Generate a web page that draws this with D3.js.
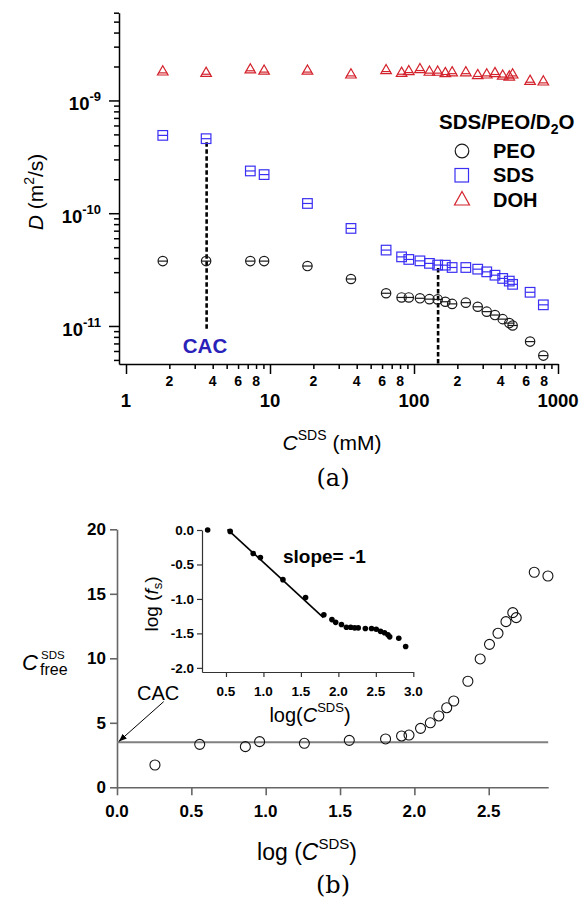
<!DOCTYPE html>
<html><head><meta charset="utf-8">
<script src="https://cdn.jsdelivr.net/npm/d3@7"></script>
<style>
body{margin:0;background:#fff}
svg{display:block;font-family:"Liberation Sans",Arial,sans-serif}
</style></head><body>
<svg id="fig" width="582" height="900"></svg>
<script>
// SDS concentration (mM) of each sample
const concentration = [1.8, 3.6, 7.3, 9.1, 18.2, 36.5, 64, 82, 92, 110, 128, 146, 165, 184, 229, 277, 320, 365, 413, 459, 484, 640, 791];
// self-diffusion coefficients (m^2/s)
const dPEO = [3.76e-11, 3.76e-11, 3.76e-11, 3.76e-11, 3.4e-11, 2.61e-11, 1.95e-11, 1.79e-11, 1.79e-11, 1.76e-11, 1.73e-11, 1.72e-11, 1.64e-11, 1.57e-11, 1.61e-11, 1.48e-11, 1.34e-11, 1.25e-11, 1.15e-11, 1.06e-11, 1.01e-11, 7.27e-12, 5.46e-12];
const dSDS = [4.9e-10, 4.58e-10, 2.37e-10, 2.2e-10, 1.22e-10, 7.33e-11, 4.71e-11, 4.1e-11, 3.89e-11, 3.78e-11, 3.59e-11, 3.47e-11, 3.46e-11, 3.3e-11, 3.3e-11, 3.19e-11, 3.02e-11, 2.82e-11, 2.64e-11, 2.5e-11, 2.34e-11, 1.99e-11, 1.54e-11];
const dDOH = [1.84e-9, 1.79e-9, 1.92e-9, 1.87e-9, 1.87e-9, 1.73e-9, 1.89e-9, 1.79e-9, 1.85e-9, 1.93e-9, 1.83e-9, 1.83e-9, 1.78e-9, 1.81e-9, 1.81e-9, 1.71e-9, 1.73e-9, 1.78e-9, 1.69e-9, 1.66e-9, 1.73e-9, 1.52e-9, 1.50e-9];
// free surfactant concentration (mM) and log of free fraction
const cFree = [1.73, 3.33, 3.15, 3.54, 3.41, 3.64, 3.75, 3.98, 4.05, 4.57, 5.0, 5.53, 6.17, 6.69, 8.22, 9.95, 11.08, 11.94, 12.84, 13.54, 13.15, 16.67, 16.38];
const logFs = [0.0, -0.02, -0.34, -0.40, -0.72, -0.98, -1.23, -1.30, -1.34, -1.37, -1.41, -1.41, -1.42, -1.42, -1.43, -1.43, -1.44, -1.47, -1.49, -1.52, -1.55, -1.57, -1.69];
const cacLevel = 3.5;
// dashed guides: [concentration, upper D, lower D]
const guides = [[3.63, 4.25e-10, 9.2e-12], [147, 3.26e-11, 4.6e-12]];
// slope -1 fit segment in the inset
const fitX = [0.52, 1.80];
const fitY = [0.01, -1.27];
const xMajorLabels = [1, 10, 100, 1000];
const xMinorLabels = [2, 4, 6, 8, 20, 40, 60, 80, 200, 400, 600, 800];
const yMajorExp = [-9, -10, -11];
const bYTicks = [0, 5, 10, 15, 20];
const bXTicks = [0, 0.5, 1.0, 1.5, 2.0, 2.5];
const iYTicks = [0, -0.5, -1.0, -1.5, -2.0];
const iXTicks = [0.5, 1.0, 1.5, 2.0, 2.5, 3.0];

const RED = "#d3222c", BLUE = "#3a2ff2", INK = "#1a1a1a";
const svg = d3.select("#fig");
svg.append("defs").append("marker").attr("id", "ah")
  .attr("viewBox", "0 0 10 10").attr("refX", 10).attr("refY", 5)
  .attr("markerWidth", 8).attr("markerHeight", 8).attr("orient", "auto")
  .append("path").attr("d", "M0,1L10,5L0,9z").attr("fill", "#000");

/* ---------- panel (a): diffusion coefficients ---------- */
const xA = d3.scaleLog().domain([0.894, 1000]).range([119, 558]);
const yA = d3.scaleLog().domain([4.6e-12, 6e-9]).range([364, 12.7]);
const gA = svg.append("g");

const xAll = [];
[1, 10, 100].forEach(d => d3.range(1, 10).forEach(k => xAll.push(k * d)));
xAll.push(1000);
const xMinor = xAll.filter(v => !xMajorLabels.includes(v));
const yMinor = [];
[1e-12, 1e-11, 1e-10, 1e-9].forEach(d => d3.range(2, 10).forEach(k => {
  const v = k * d; if (v >= 4.6e-12 && v <= 6.01e-9) yMinor.push(v);
}));
const yMajor = yMajorExp.map(e => Math.pow(10, e));

function styleAxis(g, col, w) {
  g.selectAll("path,line").attr("stroke", col).attr("stroke-width", w);
  g.selectAll("text").remove();
}
gA.append("g").attr("transform", "translate(0,364)")
  .call(d3.axisBottom(xA).tickValues(xMinor).tickSize(5).tickSizeOuter(0).tickFormat(""))
  .call(g => styleAxis(g, "#000", 1.5));
gA.append("g").attr("transform", "translate(0,364)")
  .call(d3.axisBottom(xA).tickValues(xMajorLabels).tickSize(10).tickSizeOuter(0).tickFormat(""))
  .call(g => { styleAxis(g, "#000", 1.5); g.select(".domain").remove(); });
gA.append("g").attr("transform", "translate(119,0)")
  .call(d3.axisLeft(yA).tickValues(yMinor).tickSize(5).tickSizeOuter(0).tickFormat(""))
  .call(g => styleAxis(g, "#000", 1.5));
gA.append("g").attr("transform", "translate(119,0)")
  .call(d3.axisLeft(yA).tickValues(yMajor).tickSize(10).tickSizeOuter(0).tickFormat(""))
  .call(g => { styleAxis(g, "#000", 1.5); g.select(".domain").remove(); });

gA.selectAll(".xminl").data(xMinorLabels).join("text")
  .attr("x", d => xA(d)).attr("y", 386).attr("text-anchor", "middle")
  .attr("font-size", 14).attr("font-weight", "bold").text(d => String(d)[0]);
gA.selectAll(".xmajl").data(xMajorLabels).join("text")
  .attr("x", d => xA(d)).attr("y", 407).attr("text-anchor", "middle")
  .attr("font-size", 18.5).attr("font-weight", "bold").text(d => d);
const yl = gA.selectAll(".ymajl").data(yMajorExp).join("text")
  .attr("x", 101).attr("y", d => yA(Math.pow(10, d)) + 10).attr("text-anchor", "end")
  .attr("font-weight", "bold");
yl.append("tspan").attr("font-size", 18.5).text("10");
yl.append("tspan").attr("font-size", 13).attr("dy", -9).text(d => d);

// dashed CAC / CMC guides
gA.selectAll(".guide").data(guides).join("line")
  .attr("x1", d => xA(d[0])).attr("x2", d => xA(d[0]))
  .attr("y1", d => yA(d[1])).attr("y2", d => yA(d[2]))
  .attr("stroke", "#000").attr("stroke-width", 2.6).attr("stroke-dasharray", "4.5,2.5");

// markers with a centre bar
function circleMark(g, r) {
  g.append("circle").attr("r", r).attr("fill", "none");
}
const seriesA = [
  { vals: dPEO, col: INK, kind: "circle" },
  { vals: dSDS, col: BLUE, kind: "square" },
  { vals: dDOH, col: RED, kind: "triangle" }
];
seriesA.forEach(s => {
  const g = gA.append("g").attr("stroke", s.col).attr("stroke-width", 1.2).attr("fill", "none");
  const m = g.selectAll("g").data(concentration.map((c, i) => [c, s.vals[i]])).join("g")
    .attr("transform", d => `translate(${xA(d[0])},${yA(d[1])})`);
  if (s.kind === "circle") {
    m.append("circle").attr("r", 4.7);
    m.append("line").attr("x1", -4.7).attr("x2", 4.7);
  } else if (s.kind === "square") {
    m.append("rect").attr("x", -4.8).attr("y", -4.8).attr("width", 9.6).attr("height", 9.6);
    m.append("line").attr("x1", -4.8).attr("x2", 4.8);
  } else {
    m.append("path").attr("d", "M0,-4.8L5.3,4.4L-5.3,4.4Z");
    m.append("line").attr("x1", -4.4).attr("x2", 4.4).attr("y1", 2.3).attr("y2", 2.3);
  }
});

// legend
const lg = gA.append("g");
const lt = lg.append("text").attr("x", 439).attr("y", 129).attr("font-size", 20.5).attr("font-weight", "bold");
lt.append("tspan").text("SDS/PEO/D");
lt.append("tspan").attr("font-size", 14).attr("dy", 5).text("2");
lt.append("tspan").attr("dy", -5).text("O");
lg.append("circle").attr("cx", 462).attr("cy", 151).attr("r", 6.8)
  .attr("fill", "none").attr("stroke", INK).attr("stroke-width", 1.2);
lg.append("rect").attr("x", 455).attr("y", 168.5).attr("width", 13.5).attr("height", 13.5)
  .attr("fill", "none").attr("stroke", BLUE).attr("stroke-width", 1.2);
lg.append("path").attr("d", "M462,191.5L469.5,205L454.5,205Z")
  .attr("fill", "none").attr("stroke", RED).attr("stroke-width", 1.2);
[["PEO", 157.5], ["SDS", 182], ["DOH", 206.5]].forEach(([t, y]) =>
  lg.append("text").attr("x", 493).attr("y", y).attr("font-size", 20)
    .attr("font-weight", "bold").text(t));

gA.append("text").attr("x", 205).attr("y", 353).attr("text-anchor", "middle")
  .attr("font-size", 20.5).attr("font-weight", "bold").attr("fill", "#2a22b8").text("CAC");

const ylab = gA.append("text").attr("transform", "translate(43,192) rotate(-90)")
  .attr("text-anchor", "middle").attr("font-size", 21);
ylab.append("tspan").attr("font-style", "italic").text("D");
ylab.append("tspan").text(" (m");
ylab.append("tspan").attr("font-size", 14).attr("dy", -9).text("2");
ylab.append("tspan").attr("dy", 9).text("/s)");

const xlab = gA.append("text").attr("x", 332).attr("y", 450)
  .attr("text-anchor", "middle").attr("font-size", 21);
xlab.append("tspan").attr("font-style", "italic").text("C");
xlab.append("tspan").attr("font-size", 14).attr("dy", -10).text("SDS");
xlab.append("tspan").attr("dy", 10).text(" (mM)");

svg.append("text").attr("x", 333).attr("y", 486).attr("text-anchor", "middle")
  .attr("font-family", "'DejaVu Serif',serif").attr("font-size", 24).text("(a)");

/* ---------- panel (b): free surfactant ---------- */
const xB = d3.scaleLinear().domain([0, 2.9]).range([117, 548.2]);
const yB = d3.scaleLinear().domain([0, 20]).range([787.3, 529.3]);
const gB = svg.append("g");
const GREY = "#666";

gB.append("g").attr("transform", "translate(0,787.3)")
  .call(d3.axisBottom(xB).tickValues(bXTicks).tickSize(8).tickSizeOuter(0).tickFormat(""))
  .call(g => styleAxis(g, GREY, 1.6));
gB.append("g").attr("transform", "translate(117,0)")
  .call(d3.axisLeft(yB).tickValues(bYTicks).tickSize(7).tickSizeOuter(0).tickFormat(""))
  .call(g => styleAxis(g, GREY, 1.6));
gB.selectAll(".bxl").data(bXTicks).join("text")
  .attr("x", d => xB(d)).attr("y", 817).attr("text-anchor", "middle")
  .attr("font-size", 17).attr("font-weight", "bold").text(d => d3.format(".1f")(d));
gB.selectAll(".byl").data(bYTicks).join("text")
  .attr("x", 106).attr("y", d => yB(d) + 6).attr("text-anchor", "end")
  .attr("font-size", 17).attr("font-weight", "bold").text(d => d);

gB.append("line").attr("x1", xB(0)).attr("x2", xB(2.9))
  .attr("y1", yB(cacLevel)).attr("y2", yB(cacLevel))
  .attr("stroke", "#808080").attr("stroke-width", 2);

const logC = concentration.map(c => Math.log10(c));
gB.selectAll(".free").data(logC.map((v, i) => [v, cFree[i]])).join("circle")
  .attr("cx", d => xB(d[0])).attr("cy", d => yB(d[1])).attr("r", 5)
  .attr("fill", "none").attr("stroke", "#111").attr("stroke-width", 1.1);

gB.append("text").attr("x", 137).attr("y", 700).attr("font-size", 20).text("CAC");
gB.append("line").attr("x1", xB(0.314)).attr("y1", yB(6.64))
  .attr("x2", xB(0.012)).attr("y2", yB(cacLevel + 0.05))
  .attr("stroke", "#000").attr("stroke-width", 1).attr("marker-end", "url(#ah)");

const cf = gB.append("text").attr("x", 22).attr("y", 670).attr("font-size", 22);
cf.append("tspan").attr("font-style", "italic").text("C");
gB.append("text").attr("x", 41).attr("y", 659).attr("font-size", 11.5).text("SDS");
gB.append("text").attr("x", 40).attr("y", 675).attr("font-size", 16).text("free");

const bxl = gB.append("text").attr("x", 307).attr("y", 860)
  .attr("text-anchor", "middle").attr("font-size", 23);
bxl.append("tspan").text("log (");
bxl.append("tspan").attr("font-style", "italic").text("C");
bxl.append("tspan").attr("font-size", 15).attr("dy", -11).text("SDS");
bxl.append("tspan").attr("dy", 11).text(")");

svg.append("text").attr("x", 333).attr("y", 893).attr("text-anchor", "middle")
  .attr("font-family", "'DejaVu Serif',serif").attr("font-size", 24).text("(b)");

/* ---------- inset: log free fraction ---------- */
const xI = d3.scaleLinear().domain([0.18, 3.0]).range([202, 413.3]);
const yI = d3.scaleLinear().domain([-2.06, 0]).range([672, 530]);
const gI = svg.append("g");
gI.append("g").attr("transform", "translate(0,672)")
  .call(d3.axisBottom(xI).tickValues(iXTicks).tickSize(5).tickSizeOuter(0).tickFormat(""))
  .call(g => styleAxis(g, "#333", 1.2));
gI.append("g").attr("transform", "translate(202,0)")
  .call(d3.axisLeft(yI).tickValues(iYTicks).tickSize(5).tickSizeOuter(0).tickFormat(""))
  .call(g => styleAxis(g, "#333", 1.2));
gI.selectAll(".ixl").data(iXTicks).join("text")
  .attr("x", d => xI(d)).attr("y", 696).attr("text-anchor", "middle")
  .attr("font-size", 13.5).attr("font-weight", "bold").text(d => d3.format(".1f")(d));
gI.selectAll(".iyl").data(iYTicks).join("text")
  .attr("x", 194).attr("y", d => yI(d) + 4.8).attr("text-anchor", "end")
  .attr("font-size", 13.5).attr("font-weight", "bold").text(d => d3.format(".1f")(d).replace("−", "-"));

gI.append("line").attr("x1", xI(fitX[0])).attr("y1", yI(fitY[0]))
  .attr("x2", xI(fitX[1])).attr("y2", yI(fitY[1]))
  .attr("stroke", "#000").attr("stroke-width", 1.6);
gI.selectAll(".fs").data(logC.map((v, i) => [v, logFs[i]])).join("circle")
  .attr("cx", d => xI(d[0])).attr("cy", d => yI(d[1])).attr("r", 2.8).attr("fill", "#000");

gI.append("text").attr("x", 283).attr("y", 563).attr("font-size", 19)
  .attr("font-weight", "bold").text("slope= -1");

const iyl = gI.append("text").attr("transform", "translate(158,604) rotate(-90)")
  .attr("text-anchor", "middle").attr("font-size", 19);
iyl.append("tspan").text("log (");
iyl.append("tspan").attr("font-style", "italic").text("f");
iyl.append("tspan").attr("font-size", 13).attr("dy", 4).text("s");
iyl.append("tspan").attr("dy", -4).text(")");

const ixl = gI.append("text").attr("x", 310).attr("y", 722)
  .attr("text-anchor", "middle").attr("font-size", 20);
ixl.append("tspan").text("log(");
ixl.append("tspan").attr("font-style", "italic").text("C");
ixl.append("tspan").attr("font-size", 13).attr("dy", -10).text("SDS");
ixl.append("tspan").attr("dy", 10).text(")");
</script>
</body></html>
